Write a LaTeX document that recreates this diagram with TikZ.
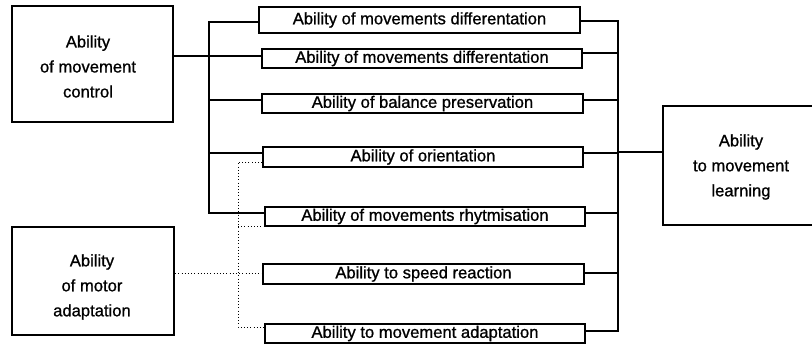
\documentclass[tikz,border=0pt]{standalone}
\usepackage{fontspec}
\setmainfont{Liberation Sans}[FakeBold=0.9]
\begin{document}
\begin{tikzpicture}[x=1pt,y=-1pt,
  txt/.style={font=\fontsize{16.6}{25}\selectfont, inner sep=0pt, align=center},
  bigbox/.style={draw, line width=2.2pt, inner sep=0pt},
  smallbox/.style={draw, line width=1.5pt, inner sep=0pt, minimum width=320pt,
                   font=\fontsize{16.6}{20}\selectfont},
  link/.style={line width=1.1pt},
  dotlink/.style={line width=1pt, dash pattern=on 1pt off 2.2pt}]
\useasboundingbox (0,0) rectangle (812,345);
\fill[white] (0,0) rectangle (812,345);
\clip (0,0) rectangle (812,345);

% outer abilities
\node[bigbox, minimum width=161pt, minimum height=116pt] (A) at (92.5,64) {};
\node[txt] (Atext) at (88,66.5) {Ability\\of movement\\control};
\node[bigbox, minimum width=162pt, minimum height=108pt] (B) at (93,281) {};
\node[txt] (Btext) at (92,287) {Ability\\of motor\\adaptation};
\node[bigbox, minimum width=156pt, minimum height=119pt] (C) at (741,165.5) {};
\node[txt] (Ctext) at (741,167) {Ability\\to movement\\learning};

% component abilities
\node[smallbox, minimum width=321pt, minimum height=26pt] (b1) at (419.5,20) {Ability of movements differentation};
\node[smallbox, minimum height=19pt] (b2) at (422,58.5) {Ability of movements differentation};
\node[smallbox, minimum width=321pt, minimum height=19pt] (b3) at (422.5,103.5) {Ability of balance preservation};
\node[smallbox, minimum height=20pt] (b4) at (423,157) {Ability of orientation};
\node[smallbox, minimum height=19pt] (b5) at (425,216.5) {Ability of movements rhytmisation};
\node[smallbox, minimum width=321pt, minimum height=20pt] (b6) at (423.5,274) {Ability to speed reaction};
\node[smallbox, minimum height=19pt] (b7) at (425,333.5) {Ability to movement adaptation};

% left bus (movement control)
\coordinate (Ltop) at (209,22);
\coordinate (Lbot) at (209,213);
\draw[link] (b1.west |- Ltop) -- (Ltop) -- (Lbot) -- (b5.west |- Lbot);
\draw[link] (A.east |- 0,56) -- (b2.west |- 0,56);
\draw[link] (Ltop |- 0,100) -- (b3.west |- 0,100);
\draw[link] (Ltop |- 0,153) -- (b4.west |- 0,153);

% right bus (movement learning)
\coordinate (Rtop) at (618,21);
\coordinate (Rbot) at (618,331);
\draw[link] (b1.east |- Rtop) -- (Rtop) -- (Rbot) -- (b7.east |- Rbot);
\draw[link] (b2.east |- 0,53) -- (Rtop |- 0,53);
\draw[link] (b3.east |- 0,100) -- (Rtop |- 0,100);
\draw[link] (b4.east |- 0,153) -- (Rtop |- 0,153);
\draw[link] (b5.east |- 0,213) -- (Rtop |- 0,213);
\draw[link] (b6.east |- 0,273) -- (Rtop |- 0,273);
\draw[link] (Rtop |- 0,152) -- (C.west |- 0,152);

% dotted bus (motor adaptation)
\coordinate (Dtop) at (238,162);
\coordinate (Dbot) at (238,327);
\draw[dotlink] (b4.west |- Dtop) -- (Dtop) -- (Dbot) -- (b7.west |- Dbot);
\draw[dotlink] (Dtop |- 0,226) -- (b5.west |- 0,226);
\draw[dotlink] (B.east |- 0,273) -- (b6.west |- 0,273);
\end{tikzpicture}
\end{document}
